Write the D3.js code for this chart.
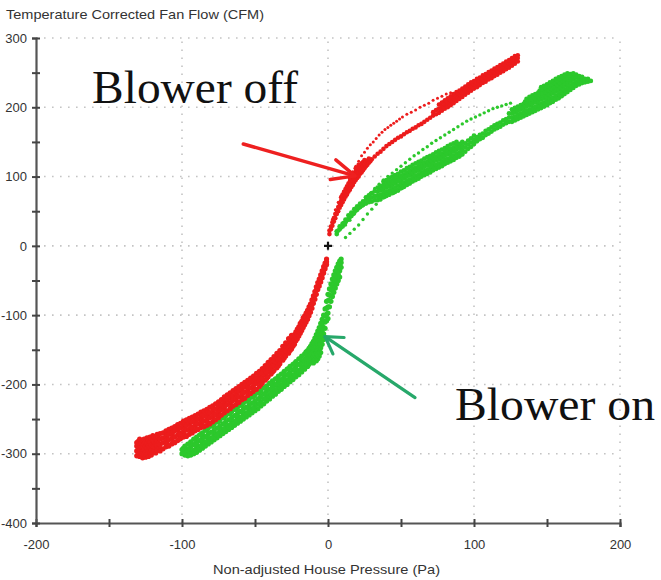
<!DOCTYPE html>
<html><head><meta charset="utf-8">
<script src="https://cdn.jsdelivr.net/npm/d3@7"></script>
<style>html,body{margin:0;padding:0;background:#fff;}svg{display:block;}</style>
</head><body>
<svg id="c" width="661" height="580"></svg>
<script>
// ---- axis ticks / labels ----
const xTickValues = [-200,-150,-100,-50,0,50,100,150,200];
const yTickValues = [-400,-350,-300,-250,-200,-150,-100,-50,0,50,100,150,200,250,300];
const xGrid = [-100,0,100,200];
const yGrid = [-300,-200,-100,0,100,200,300];
const yTitle = "Temperature Corrected Fan Flow (CFM)";
const xTitle = "Non-adjusted House Pressure (Pa)";
const labelOff = "Blower off";
const labelOn = "Blower on";

// ---- data: [x, y1, y2, ...] ----
const offNeg = [
[-131,-303,-296,-289,-284],[-130,-299,-291,-282],[-129,-304,-295,-287,-279],[-128,-300,-290,-285],
[-127,-306,-297,-289,-281],[-126,-302,-294,-286,-279],[-125,-305,-298,-289,-283],[-124,-301,-292,-285,-277],
[-123,-304,-295,-288,-280],[-122,-299,-291,-283,-276],[-121,-302,-294,-287,-279],[-120,-298,-289,-281,-274],
[-119,-296,-290,-283,-276],[-118,-299,-287,-280],[-117,-295,-288,-281,-272],[-116,-292,-285,-277],
[-115,-296,-287,-279,-271],[-113,-293,-284,-277,-270],[-111,-290,-282,-275,-267],[-110,-286,-279,-272],
[-109,-289,-280,-272,-265],[-107,-286,-278,-270,-263],[-106,-283,-275,-268],[-105,-284,-276,-267,-261],
[-103,-281,-273,-265,-258],[-102,-279,-270,-262],[-101,-278,-271,-263,-256],[-99,-276,-268,-260,-253],
[-98,-273,-265,-257],[-97,-275,-266,-259,-251],[-95,-272,-264,-256,-249],[-94,-268,-261,-253],
[-93,-270,-262,-254,-247],[-91,-267,-259,-252,-245],[-90,-264,-256,-249],[-89,-265,-257,-250,-243],
[-87,-262,-255,-247,-240],[-86,-259,-252,-244],[-85,-261,-253,-245,-238],[-83,-259,-250,-243,-236],
[-82,-255,-247,-240],[-81,-257,-248,-241,-233],[-79,-254,-246,-238,-231],[-78,-251,-243,-235],
[-77,-251,-244,-236,-228],[-75,-248,-240,-232,-225],[-74,-245,-237,-229],[-73,-244,-236,-229,-222],
[-71,-241,-233,-225,-218],[-70,-238,-230,-223],[-69,-238,-229,-222,-215],[-67,-235,-227,-219,-212],
[-66,-232,-224,-216],[-65,-231,-223,-216,-209],[-63,-229,-220,-213,-206],[-62,-225,-217,-210],
[-61,-226,-218,-210,-203],[-59,-222,-214,-207,-200],[-58,-219,-212,-204],[-57,-220,-211,-203,-197],
[-55,-216,-208,-201,-194],[-54,-213,-205,-198],[-53,-213,-205,-197,-191],[-51,-210,-202,-195,-188],
[-50,-207,-199,-192],[-49,-207,-198,-191,-184],[-47,-203,-195,-187,-181],[-46,-200,-192,-185],
[-45,-198,-191,-183,-177],[-43,-194,-186,-179,-173],[-42,-191,-183,-176],[-41,-189,-181,-174,-168],
[-39,-185,-177,-170,-164],[-38,-182,-174,-168],[-37,-180,-173,-166,-160],[-35,-176,-168,-161,-155],
[-34,-173,-165,-158],[-33,-170,-163,-156,-151],[-31,-165,-158,-150,-145],[-30,-162,-155,-148],
[-29,-159,-152,-145,-140],[-27,-155,-147,-140,-134],[-26,-151,-144,-137],[-25,-149,-142,-135,-129],
[-24,-145,-138,-131],[-23,-142,-135,-128],[-22,-137,-131,-124],[-21,-134,-127,-120],[-20,-130,-123,-117],
[-19,-126,-119,-112],[-18,-122,-115,-109],[-17,-118,-111,-104],[-16,-114,-107,-101],[-15,-110,-103,-97],
[-14,-106,-99,-93],[-13,-101,-94,-88],[-12,-96,-90,-84],[-11,-90,-84,-78],[-10,-83,-77,-72],
[-9,-77,-71,-66],[-8,-70,-64,-59],[-7,-63,-58,-53],[-6,-58,-53,-48],[-5,-52,-47,-42],[-4,-46,-41,-36],
[-3,-39,-35,-30],[-2,-33,-29,-25],[-1,-27,-23,-19]
];
const offPos = [
[1,17,22],[2,24,28],[3,29,34],[4,35,40],[5,40,46],[6,46,51],[7,50,56],[8,55,61],[9,59,65,70],
[10,63,69,74],[11,67,73,78],[12,71,77,82],[13,74,80,86],[14,78,84,90],[15,81,87,93,98],[16,85,91,97],
[17,88,94,100,105],[18,92,98,104],[19,95,101,107,112],[20,98,104,110],[21,100,107,113,117],
[22,104,110,116],[23,106,112,119],[24,109,115,121],[25,112,118,124],[26,115,121],[27,117,123],
[28,120,126],[29,122],[30,125],[32,129],[34,133],[36,136],[38,140],[40,144],[42,147],[44,150],
[46,153],[48,156],[50,158],[52,161],[54,164],[56,166],[58,169],[60,171],[62,174],[64,176],[66,179],
[68,182],[70,185],[72,188,193],[74,190,196],[76,192,198,204],[77,197,204],[78,195,201,207],[79,200,207],
[80,198,204,210],[81,202,209],[82,200,207,213],[83,205,212],[84,203,210,216],[85,208,215],
[86,206,213,219],[87,211,218],[88,209,216,222],[89,214,220],[90,212,219,224],[91,217,223],
[92,215,221,227],[93,220,226],[94,218,224,230],[95,222,229],[96,221,227,233],[97,225,232],
[98,224,230,236],[99,228,234],[100,227,233,238],[101,231,237],[102,229,235,241],[103,233,239],
[104,232,238,243],[105,236,242],[106,235,240,246],[107,239,245],[108,237,243,248],[109,241,247],
[110,240,245,251],[111,244,250],[112,242,248,253],[113,246,252],[114,245,250,256],[115,249,255],
[116,247,253,258],[117,251,257],[118,250,255,261],[119,254,260],[120,252,258,263],[121,256,262],
[122,255,260,266],[123,259,265],[124,257,263,268],[125,262,268],[126,260,266,271],[127,264,270],
[128,263,268,274],[129,267,272],[130,266,271,275]
];
const offPosUpper = [
[3,38],[5,52],[7,63],[9,72],[11,79],[13,86],[15,97],[17,107],[19,115],[21,122],[23,130],[25,135],
[27,141],[29,146],[31,150],[33,155],[35,160],[37,164],[39,168],[41,171],[43,174],[45,177],[47,180],
[49,183],[51,186],[54,190],[57,193],[60,196],[63,200],[66,203],[69,206],[72,210],[75,213],[78,216],
[81,219],[84,221]
];
const onNeg = [
[9,-19,-24,-31],[8,-22,-28,-36,-45],[7,-26,-33,-41,-50],[6,-31,-38,-47,-55],[5,-36,-44,-52,-61],
[4,-42,-50,-58,-67],[3,-48,-57,-65,-73],[2,-55,-63,-72,-80],[1,-62,-71,-79,-88],[0,-70,-79,-88,-97,-105],
[-1,-80,-90,-99,-108],[-2,-91,-101,-110,-119],[-3,-100,-109,-118,-127,-135],[-4,-106,-115,-124,-133,-142],
[-5,-112,-121,-130,-139,-147,-154],[-6,-118,-127,-136,-145,-152,-159],[-7,-123,-132,-141,-149,-157,-163],
[-8,-128,-137,-146,-154,-161,-166],[-9,-133,-142,-150,-158,-165],[-10,-138,-146,-155,-162,-169],
[-11,-141,-150,-158,-165],[-12,-145,-153,-161,-168],[-13,-148,-156,-164,-171],[-14,-151,-159,-167,-174],
[-15,-153,-162,-170],[-16,-156,-164,-172,-178],[-18,-159,-167,-175,-182],[-19,-163,-171,-179],
[-20,-163,-171,-180,-186],[-22,-167,-175,-183,-189],[-23,-170,-178,-186],[-24,-171,-179,-187,-193],
[-26,-174,-183,-190,-196],[-27,-177,-185,-193],[-28,-178,-186,-194,-200],[-30,-181,-190,-197,-203],
[-31,-185,-193,-200],[-32,-185,-193,-201,-207],[-34,-188,-197,-204,-210],[-35,-192,-200,-207],
[-36,-192,-200,-208,-214],[-38,-195,-204,-211,-217],[-39,-199,-207,-214],[-40,-198,-207,-215,-221],
[-42,-202,-210,-218,-224],[-43,-205,-213,-221],[-44,-205,-214,-221,-228],[-46,-209,-217,-225,-231],
[-47,-212,-220,-228],[-48,-212,-221,-228,-235],[-50,-215,-224,-232,-238],[-51,-218,-227,-235],
[-52,-218,-227,-235,-241],[-54,-221,-230,-238,-244],[-55,-224,-233,-241],[-56,-224,-233,-241,-247],
[-58,-227,-236,-244,-250],[-59,-230,-239,-247],[-60,-230,-239,-247,-253],[-62,-233,-242,-250,-256],
[-63,-236,-245,-253],[-64,-236,-245,-253,-259],[-66,-239,-248,-256,-262],[-67,-242,-251,-259],
[-68,-242,-251,-259,-265],[-70,-245,-254,-262,-268],[-71,-248,-257,-265],[-72,-248,-257,-265,-271],
[-74,-251,-260,-268,-274],[-75,-254,-263,-271],[-76,-254,-263,-271,-277],[-78,-257,-266,-274,-280],
[-79,-260,-269,-277],[-80,-260,-269,-277,-283],[-82,-263,-272,-280,-286],[-83,-266,-275,-283],
[-84,-266,-275,-283,-289],[-86,-270,-278,-286,-292],[-87,-272,-281,-289],[-88,-273,-281,-289,-295],
[-90,-276,-284,-292,-298],[-91,-279,-287,-295],[-92,-279,-287,-295,-300],[-94,-283,-290,-298,-302],
[-95,-286,-294,-300],[-96,-286,-293,-300,-303],[-98,-289,-296,-302],[-99,-292,-299],[-100,-294,-300]
];
const onPos = [
[6,17,21],[7,22],[8,24,28],[9,27],[10,28,32],[11,33],[12,34,38],[13,37],[14,39,44],[15,42],[16,43,48],
[17,46],[18,48,53],[19,51],[20,52,57],[21,55],[22,56,61],[23,58],[24,59,64],[25,62],[26,61,66,70],
[28,63,68,73],[30,64,70,76],[32,66,72,79],[34,66,72,78,84],[35,70,81],[36,68,74,80,86],[37,71,83],
[38,70,76,82,88,93],[39,73,85],[40,72,78,84,90,95],[41,75,87],[42,74,80,86,92,98],[43,77,89],
[44,76,82,88,94,100],[45,79,91,97],[46,78,84,90,96,102],[47,81,93],[48,80,87,93,99,104],[49,84,96],
[50,83,89,95,101,107],[51,86,98],[52,85,91,97,103,109],[53,88,100],[54,88,94,100,106,112],[55,91,103],
[56,90,96,102,108,114],[57,93,105],[58,93,99,105,111,117],[59,96,108],[60,95,101,107,113,119],
[61,98,110],[62,97,103,109,115,121],[63,100,112],[64,100,106,112,118,123],[65,103,115],
[66,102,108,114,120,126],[67,105,117],[68,104,110,116,122,128],[69,107,119],[70,106,112,118,124,130],
[71,109,121],[72,109,115,121,127,132],[73,112,124],[74,111,117,123,129,135],[75,114,126],
[76,113,119,125,131,137],[77,116,128],[78,115,121,127,133,139],[79,118,130],[80,118,124,130,136,141],
[81,121,133],[82,120,126,132,138,144],[83,123,135],[84,122,128,134,140,146],[85,125,137],
[86,124,130,136,142,148],[87,127,139],[88,127,133,139,145,150],[89,130,142],[90,129,135,141,147],
[91,132,144],[92,132,138,144,150],[94,136,142,148],[96,140,146,152],[98,143,149,155],[100,147,153,159],
[102,151,157],[104,154,160],[106,156,162],[108,160,166],[110,162,168],[112,165,171],[114,168,174],
[116,170,176],[118,172,178],[120,175,181],[122,177,183],[124,179,185,191],[126,179,185,191,197],
[127,183,194],[128,181,187,193,199],[129,185,196],[130,183,189,195,201],[131,187,198],
[132,185,191,197,203],[133,189,200],[134,187,193,199,205],[135,191,202,208],[136,189,195,201,207,212],
[137,193,204,210],[138,191,197,203,209,215],[139,195,206,212],[140,193,199,205,211,217],[141,197,208,214],
[142,195,201,207,213,219],[143,199,210,216],[144,197,203,209,215,221],[145,201,212,218,224],
[146,199,205,211,217,223,229],[147,203,214,220,226],[148,201,207,213,219,225,231],[149,205,216,222,228],
[150,203,209,215,221,227,233],[151,207,218,224,230],[152,206,212,218,224,230,236],[153,210,221,227,233],
[154,208,214,220,226,232,238],[155,212,223,229,235],[156,211,217,223,229,235,241],[157,215,226,232,238],
[158,213,219,225,231,237,243],[159,217,228,234,240],[160,216,222,228,234,240,245],[161,220,231,237,243],
[162,219,225,231,237,243,247],[163,223,234,240,246],[164,222,228,234,240,246,249],[165,226,237,243],
[166,225,231,237,243,248],[167,229,240,246],[168,228,234,240,246,249],[169,232,243],[170,231,237,243,247],
[171,235,244],[172,233,239,245],[174,235,240,244],[176,236,241],[178,237,241],[180,238]
];
const onPosUpper = [
[12,30],[15,37],[18,46],[21,55],[24,63],[27,71],[29,76],[32,83],[35,89],[38,95],[41,100],[44,105],
[47,110],[50,115],[53,120],[56,125],[59,130],[62,134],[65,139],[68,143],[71,148],[74,152],[77,156],
[80,160],[83,164],[86,168],[89,172],[92,176],[95,180],[98,183],[101,186],[104,189],[107,192],
[110,195],[113,198],[116,200],[119,202],[122,204],[125,206]
];
const onPosLower = [
[12,12],[15,18],[18,24],[21,30],[24,38],[27,46],[30,53],[33,60],[36,66],[39,70],[42,73],[45,76],
[48,79],[51,83],[54,87]
];
const origin = [[0,0]];
// annotation anchors in data units
const arrowOff = {from:[-58,147], to:[18.5,101]};
const arrowOn = {from:[59.6,-219], to:[-2,-131]};
const textOffPos = [-161.6,206];
const textOnPos = [87,-251];

// ---- drawing ----
const svg = d3.select("#c");
const x = d3.scaleLinear().domain([-200,200]).range([36,620]);
const y = d3.scaleLinear().domain([-400,300]).range([523,38]);
const flat = arr => arr.flatMap(d => d.slice(1).map(v => [d[0], v]));

// grid
const grid = svg.append("g").attr("stroke","#c4c4c4").attr("stroke-width",1.6).attr("stroke-dasharray","1.6,6.4");
grid.selectAll(".gx").data(xGrid).join("line")
  .attr("x1",d=>x(d)).attr("x2",d=>x(d)).attr("y1",y(-400)).attr("y2",y(300));
grid.selectAll(".gy").data(yGrid).join("line")
  .attr("y1",d=>y(d)).attr("y2",d=>y(d)).attr("x1",x(-200)).attr("x2",x(200));

// points
function dots(data, color, r){
  svg.append("g").attr("fill",color).selectAll("circle").data(data).join("circle")
    .attr("cx",d=>x(d[0])).attr("cy",d=>y(d[1])).attr("r",r);
}
const RED = "#ec1c1c", GREEN = "#2cc82c";
dots(flat(onNeg), GREEN, 2.6);
dots(flat(onPos), GREEN, 2.4);
dots(onPosUpper, GREEN, 1.7);
dots(onPosLower, GREEN, 1.7);
dots(flat(offNeg), RED, 2.6);
dots(flat(offPos), RED, 2.3);
dots(offPosUpper, RED, 1.5);

// origin marker
svg.append("g").selectAll("path").data(origin).join("path")
  .attr("d", d => `M${x(d[0])-4},${y(d[1])}h8M${x(d[0])},${y(d[1])-4}v8`)
  .attr("stroke","#111").attr("stroke-width",2.2);

// axes
const fmt = d => (d % 100 === 0 ? String(d) : "");
const xAxis = svg.append("g").attr("transform",`translate(0,${y(-400)})`)
  .call(d3.axisBottom(x).tickValues(xTickValues).tickSize(4).tickPadding(10).tickFormat(fmt));
const yAxis = svg.append("g").attr("transform",`translate(${x(-200)},0)`)
  .call(d3.axisLeft(y).tickValues(yTickValues).tickSize(4).tickPadding(6).tickFormat(fmt));
[xAxis,yAxis].forEach(g=>{
  g.select(".domain").attr("stroke","#555").attr("stroke-width",2.2);
  g.selectAll(".tick line").attr("stroke","#444").attr("stroke-width",2);
  g.selectAll("text").attr("fill","#333").attr("font-family","'Liberation Sans', Arial, sans-serif").attr("font-size",13);
});
xAxis.selectAll(".tick line").attr("y1",-4).attr("y2",4);
yAxis.selectAll(".tick line").attr("x1",4).attr("x2",-4);
xAxis.selectAll("text").attr("dy","0.9em");
yAxis.selectAll("text").attr("x",-9);

// titles
svg.append("text").attr("x",6).attr("y",19).text(yTitle)
  .attr("font-family","'Liberation Sans', Arial, sans-serif").attr("font-size",13).attr("fill","#333")
  .attr("textLength",258).attr("lengthAdjust","spacingAndGlyphs");
svg.append("text").attr("x",213).attr("y",574).text(xTitle)
  .attr("font-family","'Liberation Sans', Arial, sans-serif").attr("font-size",13).attr("fill","#333")
  .attr("textLength",227).attr("lengthAdjust","spacingAndGlyphs");

// arrows
function arrow(a, color, w, headLen, headAng){
  const [x1,y1]=[x(a.from[0]),y(a.from[1])], [x2,y2]=[x(a.to[0]),y(a.to[1])];
  const ang = Math.atan2(y1-y2, x1-x2);
  const g = svg.append("g").attr("stroke",color).attr("stroke-width",w).attr("stroke-linecap","round").attr("fill","none");
  g.append("line").attr("x1",x1).attr("y1",y1).attr("x2",x2).attr("y2",y2);
  [headAng,-headAng].forEach(h=>{
    g.append("line").attr("x1",x2).attr("y1",y2)
      .attr("x2",x2+headLen*Math.cos(ang+h)).attr("y2",y2+headLen*Math.sin(ang+h));
  });
}
arrow(arrowOff, "#ee2020", 3.5, 25, 0.42);
arrow(arrowOn, "#27a86a", 3.2, 19, 0.55);

// annotation text
svg.append("text").attr("x",x(textOffPos[0])).attr("y",y(textOffPos[1])).text(labelOff)
  .attr("font-family","'Liberation Serif', 'Times New Roman', serif").attr("font-size",46).attr("fill","#111")
  .attr("textLength",206).attr("lengthAdjust","spacingAndGlyphs");
svg.append("text").attr("x",x(textOnPos[0])).attr("y",y(textOnPos[1])).text(labelOn)
  .attr("font-family","'Liberation Serif', 'Times New Roman', serif").attr("font-size",46).attr("fill","#111")
  .attr("textLength",200).attr("lengthAdjust","spacingAndGlyphs");
</script>
</body></html>
